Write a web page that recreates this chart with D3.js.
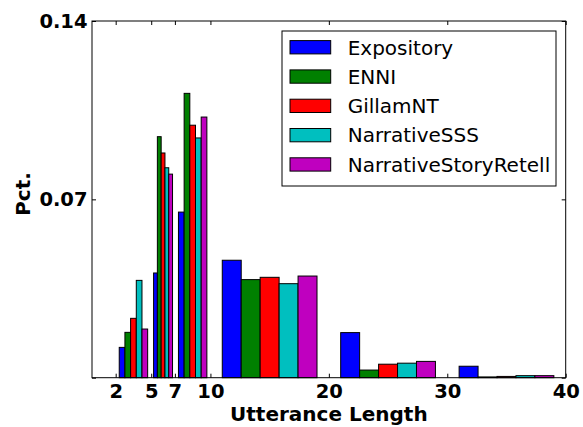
<!DOCTYPE html>
<html>
<head>
<meta charset="utf-8">
<script src="https://cdn.jsdelivr.net/npm/d3@7"></script>
<style>
  body { margin: 0; background: #fff; }
  svg { display: block; }
  text { font-family: "DejaVu Sans", sans-serif; }
</style>
</head>
<body>
<script>
// ---- data ----
const binEdges = [2, 5, 7, 10, 20, 30, 40];
const seriesNames = ["Expository", "ENNI", "GillamNT", "NarrativeSSS", "NarrativeStoryRetell"];
const seriesColors = ["#0000ff", "#008000", "#ff0000", "#00bfbf", "#bf00bf"];
const expository = [0.0119, 0.0411, 0.0650, 0.0461, 0.0177, 0.0045];
const enni = [0.0178, 0.0946, 0.1116, 0.0385, 0.0030, 0.0003];
const gillamNT = [0.0233, 0.0882, 0.0991, 0.0394, 0.0053, 0.0005];
const narrativeSSS = [0.0382, 0.0824, 0.0941, 0.0369, 0.0057, 0.0008];
const narrativeStoryRetell = [0.0191, 0.0799, 0.1023, 0.0399, 0.0064, 0.0008];
const seriesValues = [expository, enni, gillamNT, narrativeSSS, narrativeStoryRetell];
const xTicks = [2, 5, 7, 10, 20, 30, 40];
const yTicks = [0, 0.07, 0.14];
const yTickLabels = ["", "0.07", "0.14"];
const xLabel = "Utterance Length";
const yLabel = "Pct.";

// ---- layout ----
const W = 583, H = 427;
const mLeft = 92, mRight = 565.7, mTop = 21, mBottom = 377.7;

const svg = d3.select("body").append("svg").attr("width", W).attr("height", H);
const x = d3.scaleLinear().domain([0, 40]).range([mLeft, mRight]);
const y = d3.scaleLinear().domain([0, 0.14]).range([mBottom, mTop]);

// bars (matplotlib style hist, rwidth 0.8)
const nS = seriesNames.length;
const barData = [];
for (let b = 0; b < binEdges.length - 1; b++) {
  const w = binEdges[b + 1] - binEdges[b];
  const start = binEdges[b] + 0.1 * w;
  const bw = 0.8 * w / nS;
  for (let s = 0; s < nS; s++) {
    barData.push({ x0: start + s * bw, x1: start + (s + 1) * bw, v: seriesValues[s][b], c: seriesColors[s] });
  }
}
svg.append("g").selectAll("rect").data(barData).join("rect")
  .attr("x", d => x(d.x0))
  .attr("width", d => x(d.x1) - x(d.x0))
  .attr("y", d => y(d.v))
  .attr("height", d => y(0) - y(d.v))
  .attr("fill", d => d.c)
  .attr("stroke", "#000")
  .attr("stroke-width", 1);

// axes
const fs = 19.5;
const gx = svg.append("g").attr("transform", `translate(0,${mBottom})`)
  .call(d3.axisBottom(x).tickValues(xTicks).tickSize(-4).tickSizeOuter(0).tickPadding(6.2).tickFormat(d3.format("d")));
const gxt = svg.append("g").attr("transform", `translate(0,${mTop})`)
  .call(d3.axisTop(x).tickValues(xTicks).tickSize(-4).tickSizeOuter(0).tickFormat(""));
const gy = svg.append("g").attr("transform", `translate(${mLeft},0)`)
  .call(d3.axisLeft(y).tickValues(yTicks).tickSize(-4).tickSizeOuter(0).tickPadding(4.5).tickFormat((d, i) => yTickLabels[i]));
const gyr = svg.append("g").attr("transform", `translate(${mRight},0)`)
  .call(d3.axisRight(y).tickValues(yTicks).tickSize(-4).tickSizeOuter(0).tickFormat(""));
[gx, gxt, gy, gyr].forEach(g => {
  g.selectAll("path.domain").remove();
  g.selectAll("line").attr("stroke", "#000").attr("stroke-width", 1);
  g.selectAll("text").attr("fill", "#000").style("font-size", fs + "px").style("font-weight", "bold")
    .style("font-family", "'DejaVu Sans', sans-serif");
});

// frame
svg.append("rect").attr("x", mLeft).attr("y", mTop).attr("width", mRight - mLeft).attr("height", mBottom - mTop)
  .attr("fill", "none").attr("stroke", "#000").attr("stroke-width", 1);

// axis labels
svg.append("text").attr("x", (mLeft + mRight) / 2).attr("y", 421)
  .attr("text-anchor", "middle").style("font-size", "20px").style("font-weight", "bold").text(xLabel);
svg.append("text").attr("transform", `translate(30,194) rotate(-90)`)
  .attr("text-anchor", "middle").style("font-size", "20px").style("font-weight", "bold").text(yLabel);

// legend
const lg = svg.append("g");
lg.append("rect").attr("x", 282).attr("y", 31).attr("width", 274).attr("height", 155)
  .attr("fill", "#fff").attr("stroke", "#000").attr("stroke-width", 1);
seriesNames.forEach((n, i) => {
  const cy = 47.3 + i * 29.3;
  lg.append("rect").attr("x", 290).attr("y", cy - 6.7).attr("width", 40.7).attr("height", 13.3)
    .attr("fill", seriesColors[i]).attr("stroke", "#000").attr("stroke-width", 1);
  lg.append("text").attr("x", 347.7).attr("y", cy + 7.2).style("font-size", "20px").text(n);
});
</script>
</body>
</html>
